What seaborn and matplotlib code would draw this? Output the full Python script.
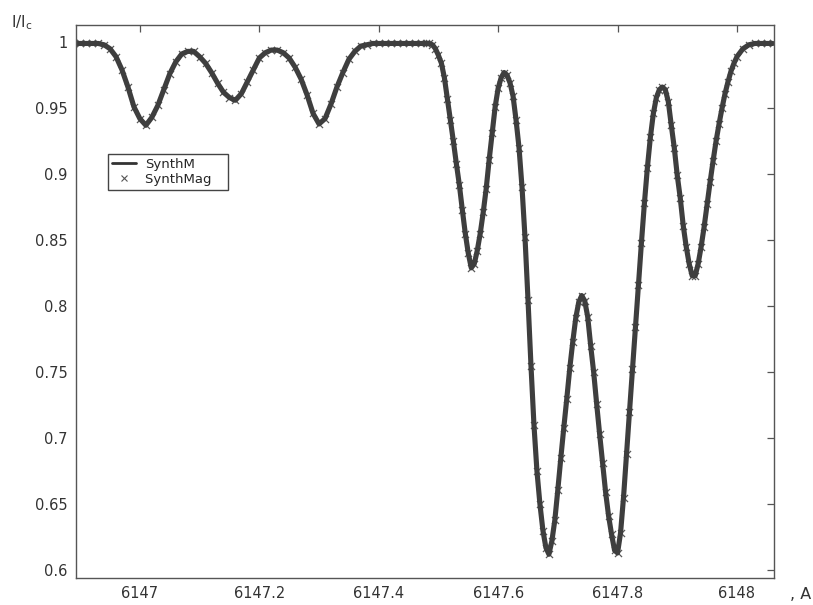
import matplotlib
matplotlib.use("Agg")
import matplotlib.pyplot as plt
import seaborn as sns
import pandas as pd
from matplotlib.lines import Line2D

# Wavelength grid (A) and normalised intensity
wavelength = [
    6146.89, 6146.90, 6146.91, 6146.92, 6146.93, 6146.94, 6146.95, 6146.96, 6146.97, 6146.98,
    6146.99, 6147.00, 6147.01, 6147.02, 6147.03, 6147.04, 6147.05, 6147.06, 6147.07, 6147.08,
    6147.09, 6147.10, 6147.11, 6147.12, 6147.13, 6147.14, 6147.15, 6147.16, 6147.17, 6147.18,
    6147.19, 6147.20, 6147.21, 6147.22, 6147.23, 6147.24, 6147.25, 6147.26, 6147.27, 6147.28,
    6147.29, 6147.30, 6147.31, 6147.32, 6147.33, 6147.34, 6147.35, 6147.36, 6147.37, 6147.38,
    6147.39, 6147.40, 6147.41, 6147.42, 6147.43, 6147.44, 6147.45, 6147.46, 6147.47, 6147.48,
    6147.485, 6147.490, 6147.495, 6147.500, 6147.505, 6147.510, 6147.515, 6147.520, 6147.525, 6147.530,
    6147.535, 6147.540, 6147.545, 6147.550, 6147.555, 6147.560, 6147.565, 6147.570, 6147.575, 6147.580,
    6147.585, 6147.590, 6147.595, 6147.600, 6147.605, 6147.610, 6147.615, 6147.620, 6147.625, 6147.630,
    6147.635, 6147.640, 6147.645, 6147.650, 6147.655, 6147.660, 6147.665, 6147.670, 6147.675, 6147.680,
    6147.685, 6147.690, 6147.695, 6147.700, 6147.705, 6147.710, 6147.715, 6147.720, 6147.725, 6147.730,
    6147.735, 6147.740, 6147.745, 6147.750, 6147.755, 6147.760, 6147.765, 6147.770, 6147.775, 6147.780,
    6147.785, 6147.790, 6147.795, 6147.800, 6147.805, 6147.810, 6147.815, 6147.820, 6147.825, 6147.830,
    6147.835, 6147.840, 6147.845, 6147.850, 6147.855, 6147.860, 6147.865, 6147.870, 6147.875, 6147.880,
    6147.885, 6147.890, 6147.895, 6147.900, 6147.905, 6147.910, 6147.915, 6147.920, 6147.925, 6147.930,
    6147.935, 6147.940, 6147.945, 6147.950, 6147.955, 6147.960, 6147.965, 6147.970, 6147.975, 6147.980,
    6147.985, 6147.990, 6147.995, 6148.000, 6148.01, 6148.02, 6148.03, 6148.04, 6148.05, 6148.06,
]
intensity = [
    0.999, 0.999, 0.999, 0.999, 0.999, 0.998, 0.995, 0.989, 0.979, 0.966,
    0.951, 0.942, 0.937, 0.943, 0.952, 0.964, 0.976, 0.985, 0.991, 0.993,
    0.993, 0.989, 0.984, 0.977, 0.969, 0.962, 0.958, 0.956, 0.961, 0.970,
    0.979, 0.988, 0.992, 0.994, 0.994, 0.992, 0.988, 0.981, 0.972, 0.960,
    0.946, 0.938, 0.942, 0.953, 0.966, 0.977, 0.987, 0.993, 0.997, 0.998,
    0.999, 0.999, 0.999, 0.999, 0.999, 0.999, 0.999, 0.999, 0.999, 0.999,
    0.999, 0.998, 0.995, 0.990, 0.984, 0.973, 0.957, 0.941, 0.925, 0.908,
    0.892, 0.873, 0.855, 0.840, 0.829, 0.832, 0.842, 0.855, 0.871, 0.889,
    0.911, 0.931, 0.951, 0.965, 0.973, 0.977, 0.975, 0.969, 0.959, 0.941,
    0.920, 0.890, 0.852, 0.805, 0.755, 0.710, 0.675, 0.650, 0.630, 0.617,
    0.612, 0.622, 0.638, 0.661, 0.685, 0.708, 0.730, 0.753, 0.773, 0.791,
    0.803, 0.808, 0.804, 0.792, 0.770, 0.750, 0.726, 0.703, 0.681, 0.659,
    0.641, 0.627, 0.615, 0.613, 0.628, 0.655, 0.688, 0.720, 0.752, 0.784,
    0.816, 0.848, 0.878, 0.905, 0.928, 0.946, 0.958, 0.964, 0.966, 0.964,
    0.955, 0.937, 0.920, 0.899, 0.882, 0.861, 0.845, 0.832, 0.823, 0.823,
    0.832, 0.845, 0.860, 0.877, 0.894, 0.910, 0.925, 0.938, 0.950, 0.961,
    0.970, 0.978, 0.984, 0.989, 0.995, 0.998, 0.999, 0.999, 0.999, 0.999,
]

x_ticks = [6147, 6147.2, 6147.4, 6147.6, 6147.8, 6148]
x_tick_labels = ["6147", "6147.2", "6147.4", "6147.6", "6147.8", "6148"]
y_ticks = [0.6, 0.65, 0.7, 0.75, 0.8, 0.85, 0.9, 0.95, 1.0]
y_tick_labels = ["0.6", "0.65", "0.7", "0.75", "0.8", "0.85", "0.9", "0.95", "1"]

df = pd.DataFrame({"wavelength": wavelength, "intensity": intensity})

sns.set_style("white")
plt.rcParams["font.family"] = ["DejaVu Sans"]

ink = "#3e3e3e"
fig = plt.figure(figsize=(8.13, 6.05), dpi=100)
ax = fig.add_axes([0.0935, 0.0446, 0.8585, 0.9141])

# SynthM as a thick line, SynthMag as x markers on top of it
sns.lineplot(data=df, x="wavelength", y="intensity", ax=ax, color=ink,
             linewidth=3.7, sort=False)
sns.scatterplot(data=df, x="wavelength", y="intensity", ax=ax, marker="x",
                color="#5a5a5a", s=26, linewidth=0.9)

ax.set_xlim(6146.893, 6148.062)
ax.set_ylim(0.594, 1.013)
ax.set_xticks(x_ticks)
ax.set_xticklabels(x_tick_labels)
ax.set_yticks(y_ticks)
ax.set_yticklabels(y_tick_labels)
ax.set_xlabel("")
ax.set_ylabel("")

ax.tick_params(direction="in", length=5, width=0.9, colors="#555555",
               labelcolor="#333333", labelsize=10.5, top=True, right=True,
               labeltop=False, labelright=False, pad=6)
for spine in ax.spines.values():
    spine.set_color("#555555")
    spine.set_linewidth(1.0)

handles = [Line2D([0], [0], color="#333333", linewidth=2.0),
           Line2D([0], [0], color="#555555", marker="x", linestyle="none",
                  markersize=4, markeredgewidth=0.8)]
ax.legend(handles, ["SynthM", "SynthMag   "], loc="upper left",
          bbox_to_anchor=(0.046, 0.767), fontsize=9.5, frameon=True,
          fancybox=False, edgecolor="#444444", framealpha=1,
          handlelength=1.8, borderpad=0.3, labelspacing=0.15,
          handletextpad=0.7, borderaxespad=0)

fig.text(0.014, 0.962, "I/I$_{\\rm c}$", fontsize=11, color="#333333",
         va="center", ha="left")
fig.text(0.972, 0.018, ", A", fontsize=11.5, color="#333333",
         va="center", ha="left")

fig.savefig("out.png", dpi=100)
